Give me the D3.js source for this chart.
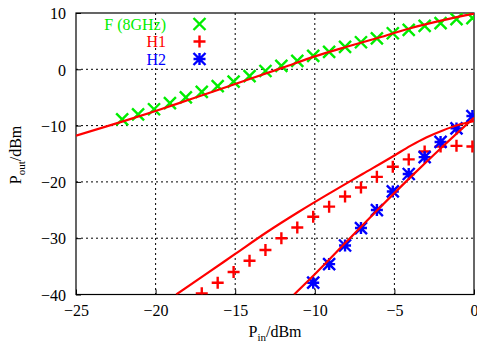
<!DOCTYPE html>
<html>
<head>
<meta charset="utf-8">
<script src="https://cdn.jsdelivr.net/npm/d3@7"></script>
<style>
    body { margin: 0; background: #fff; }
    text { font-family: "Liberation Serif", "DejaVu Serif", serif; }
</style>
</head>
<body>
<svg id="chart"></svg>
<script>
// точки измерений (маркеры)
let fX = [-22.1, -21.1, -20.1, -19.1, -18.1, -17.1, -16.1, -15.1, -14.1, -13.1, -12.1, -11.1, -10.1, -9.1, -8.1, -7.1, -6.1, -5.1, -4.1, -3.1, -2.1, -1.1, -0.1];
let fY = [-8.9, -8.0, -7.1, -6.0, -5.0, -4.0, -3.0, -2.2, -1.2, -0.3, 0.6, 1.5, 2.4, 3.1, 4.0, 4.8, 5.5, 6.4, 7.0, 7.7, 8.2, 8.9, 9.1];

let h1X = [-17.1, -16.1, -15.1, -14.1, -13.1, -12.1, -11.1, -10.1, -9.1, -8.1, -7.1, -6.1, -5.1, -4.1, -3.1, -2.1, -1.1, -0.1];
let h1Y = [-39.8, -37.9, -36.0, -34.0, -32.1, -30.0, -28.1, -26.2, -24.4, -22.6, -21.0, -19.1, -17.3, -16.0, -14.6, -13.7, -13.6, -13.7];

let h2X = [-10.1, -9.1, -8.1, -7.1, -6.1, -5.1, -4.1, -3.1, -2.1, -1.1, -0.1];
let h2Y = [-37.9, -34.6, -31.3, -28.2, -25.0, -21.7, -18.6, -15.6, -12.9, -10.5, -8.3];

// расчетные кривые (красные линии)
let fitFX = [-25, -22, -20, -18, -15, -12, -10, -8, -6, -4, -2, 0];
let fitFY = [-11.8, -9.2, -7.4, -5.5, -2.6, 0.3, 2.3, 4.0, 5.6, 7.3, 8.7, 9.9];

let fitH1X = [-18.7, -17, -15, -13, -11, -9, -7, -5, -4, -3, -2, -1, 0];
let fitH1Y = [-40, -36.7, -32.8, -28.9, -25.3, -21.9, -18.6, -15.3, -13.6, -12.1, -10.9, -9.9, -9.2];

let fitH2X = [-11.3, -10, -8, -6, -4, -2, 0];
let fitH2Y = [-40, -36.4, -30.6, -24.8, -19.2, -13.8, -8.6];

let xTicks = [-25, -20, -15, -10, -5, 0];
let yTicks = [10, 0, -10, -20, -30, -40];

let legendNames = ["F (8GHz)", "H1", "H2"];
let legendColors = ["#00ee00", "#ff0000", "#0000ff"];
let legendShapes = ["x", "plus", "star"];

const width = 477;
const height = 345;
const mLeft = 76, mRight = 474, mTop = 13, mBottom = 294.5;

let svg = d3.select("#chart")
    .attr("width", width)
    .attr("height", height);

let scX = d3.scaleLinear().domain([-25, 0]).range([mLeft, mRight]);
let scY = d3.scaleLinear().domain([-40, 10]).range([mBottom, mTop]);

let fmt = d => d < 0 ? "\u2212" + Math.abs(d) : String(d);

// сетка
svg.append("g")
    .selectAll("line")
    .data(xTicks.slice(1, -1))
    .enter()
    .append("line")
    .attr("x1", d => scX(d)).attr("x2", d => scX(d))
    .attr("y1", mTop).attr("y2", mBottom)
    .attr("stroke", "#000").attr("stroke-width", 1)
    .attr("stroke-dasharray", "2,3");

svg.append("g")
    .selectAll("line")
    .data(yTicks.slice(1, -1))
    .enter()
    .append("line")
    .attr("x1", mLeft).attr("x2", mRight)
    .attr("y1", d => scY(d)).attr("y2", d => scY(d))
    .attr("stroke", "#000").attr("stroke-width", 1)
    .attr("stroke-dasharray", "2,3");

// оси
let axisB = d3.axisBottom(scX).tickValues(xTicks).tickSize(-5).tickPadding(9).tickFormat(fmt);
let axisL = d3.axisLeft(scY).tickValues(yTicks).tickSize(-5).tickPadding(10).tickFormat(fmt);

let gx = svg.append("g").attr("transform", `translate(0, ${mBottom})`).call(axisB);
let gy = svg.append("g").attr("transform", `translate(${mLeft}, 0)`).call(axisL);
[gx, gy].forEach(g => {
    g.select(".domain").remove();
    g.selectAll("text")
        .style("font-family", "Liberation Serif")
        .style("font-size", "16px")
        .attr("fill", "#000");
});
gx.selectAll("text").attr("dy", "0.75em");
gy.selectAll("text").attr("dy", "0.36em");

svg.append("rect")
    .attr("x", mLeft).attr("y", mTop)
    .attr("width", mRight - mLeft).attr("height", mBottom - mTop)
    .attr("fill", "none").attr("stroke", "#000").attr("stroke-width", 1.2);

// подписи осей
let yTitle = svg.append("text")
    .attr("transform", "translate(21, 155) rotate(-90)")
    .attr("text-anchor", "middle")
    .style("font-size", "16px");
yTitle.append("tspan").text("P");
yTitle.append("tspan").attr("dy", 4).style("font-size", "11px").text("out");
yTitle.append("tspan").attr("dy", -4).text("/dBm");

let xTitle = svg.append("text")
    .attr("x", 275).attr("y", 337)
    .attr("text-anchor", "middle")
    .style("font-size", "16px");
xTitle.append("tspan").text("P");
xTitle.append("tspan").attr("dy", 4).style("font-size", "11px").text("in");
xTitle.append("tspan").attr("dy", -4).text("/dBm");

// область построения
svg.append("clipPath").attr("id", "clip")
    .append("rect")
    .attr("x", mLeft).attr("y", mTop)
    .attr("width", mRight - mLeft).attr("height", mBottom - mTop);

let plot = svg.append("g").attr("clip-path", "url(#clip)");

function drawMarker(g, shape, color, x, y) {
    let r = 6;
    let p = "";
    if (shape == "x" || shape == "star") {
        p += `M${x - r},${y - r}L${x + r},${y + r}M${x - r},${y + r}L${x + r},${y - r}`;
    }
    if (shape == "plus" || shape == "star") {
        p += `M${x - r},${y}L${x + r},${y}M${x},${y - r}L${x},${y + r}`;
    }
    g.append("path")
        .attr("d", p)
        .attr("fill", "none")
        .attr("stroke", color)
        .attr("stroke-width", 2.4);
}

function drawPoints(xs, ys, shape, color) {
    let g = plot.append("g");
    xs.forEach((x, i) => drawMarker(g, shape, color, scX(x), scY(ys[i])));
}

function drawFit(xs, ys) {
    let pts = xs.map((x, i) => [x, ys[i]]);
    let line = d3.line()
        .x(d => scX(d[0]))
        .y(d => scY(d[1]))
        .curve(d3.curveMonotoneX);
    plot.append("path")
        .attr("d", line(pts))
        .attr("fill", "none")
        .attr("stroke", "#ff0000")
        .attr("stroke-width", 2.2);
}

drawPoints(fX, fY, "x", legendColors[0]);
drawPoints(h1X, h1Y, "plus", legendColors[1]);
drawPoints(h2X, h2Y, "star", legendColors[2]);

drawFit(fitFX, fitFY);
drawFit(fitH1X, fitH1Y);
drawFit(fitH2X, fitH2Y);

// легенда
let legend = svg.append("g");
legendNames.forEach((name, i) => {
    let y = 24 + i * 17.5;
    legend.append("text")
        .attr("x", 166).attr("y", y)
        .attr("dy", "0.35em")
        .attr("text-anchor", "end")
        .attr("fill", legendColors[i])
        .style("font-size", "16px")
        .text(name);
    drawMarker(legend, legendShapes[i], legendColors[i], 199.5, y);
});
</script>
</body>
</html>
